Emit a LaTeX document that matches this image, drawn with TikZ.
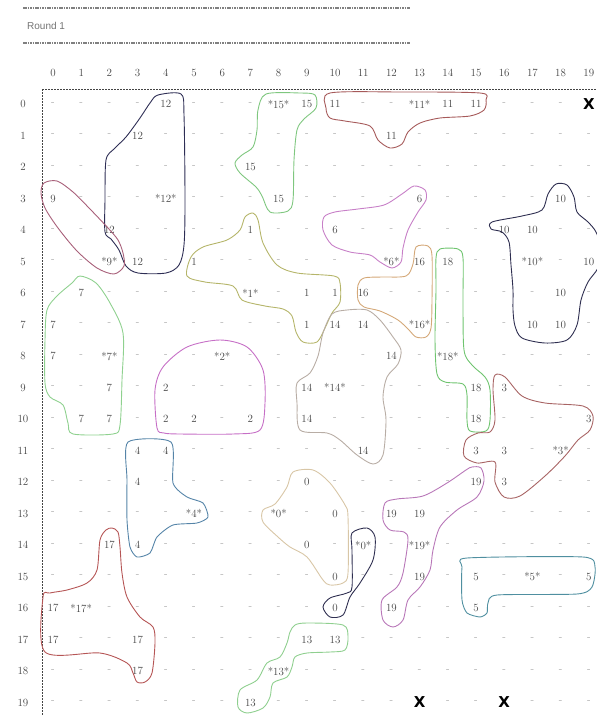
\documentclass[tikz,border=0pt]{standalone}
\usepackage{fontspec}
\newfontfamily\headfont{Liberation Sans}
\newfontfamily\crossfont{DejaVu Sans}
\usetikzlibrary{positioning}

\definecolor{ink}{HTML}{444444}
\definecolor{c0a}{HTML}{D8C6A6}
\definecolor{c0b}{HTML}{2E2E50}
\definecolor{c1}{HTML}{B5B56A}
\definecolor{c2}{HTML}{C66FC6}
\definecolor{c3}{HTML}{A86464}
\definecolor{c4}{HTML}{5584A8}
\definecolor{c5}{HTML}{4F8FA0}
\definecolor{c6}{HTML}{C77FC7}
\definecolor{c7}{HTML}{8FD18F}
\definecolor{c9}{HTML}{A8607A}
\definecolor{c10}{HTML}{2E2E50}
\definecolor{c11}{HTML}{A65A5A}
\definecolor{c12}{HTML}{2E2E55}
\definecolor{c13}{HTML}{8FCF8F}
\definecolor{c14}{HTML}{B8ADA5}
\definecolor{c15}{HTML}{7FC77F}
\definecolor{c16}{HTML}{D4A878}
\definecolor{c17}{HTML}{B55555}
\definecolor{c18}{HTML}{6FC46F}
\definecolor{c19}{HTML}{B877B8}

\tikzset{
  cell/.style={inner sep=0.6pt, font=\fontsize{11}{11}\selectfont, text=ink},
  num/.style={cell},
  dashmark/.style={cell, text=gray!75},
  xcell/.style={inner sep=0.6pt, font=\crossfont\bfseries\fontsize{15}{15}\selectfont},
  titletext/.style={inner sep=0pt, font=\headfont\fontsize{10}{10}\selectfont, text=gray!90!black},
  rule/.style={gray, line width=1.3pt, dash pattern=on 1.6pt off 0.8pt},
  axis/.style={ink, line width=0.8pt, dash pattern=on 2pt off 1pt},
  region/.style={line width=0.9pt, line join=round},
}

\begin{document}
\begin{tikzpicture}[x=1pt, y=-1pt]
\useasboundingbox (0,0) rectangle (597,715);

% title block
\node[titletext, anchor=west] (title) at (27,26) {Round 1};
\coordinate (ruleA1) at (23,8);
\coordinate (ruleA2) at (410,8);
\coordinate (ruleB1) at (23,43);
\coordinate (ruleB2) at (410,43);
\draw[rule] (ruleA1) -- (ruleA2);
\draw[rule] (ruleB1) -- (ruleB2);

% axes
\coordinate (top) at (42,89);
\coordinate (right) at (597,89);
\coordinate (bottom) at (42,715);
\draw[axis] (top) -- (right);
\draw[axis] (top) -- (bottom);

% column and row numbers
\foreach \c in {0,...,19}
  \node[cell] (h\c) at ({53+28.2*\c},73) {\c};
\foreach \r in {0,...,19}
  \node[cell] (r\r) at (23,{104+31.5*\r}) {\r};

% numbered cells
\foreach \r/\c/\t in {0/4/12, 0/8/*15*, 0/9/15, 0/10/11, 0/13/*11*, 0/14/11, 0/15/11,
    1/3/12, 1/12/11, 2/7/15,
    3/0/9, 3/4/*12*, 3/8/15, 3/13/6, 3/18/10,
    4/2/12, 4/7/1, 4/10/6, 4/16/10, 4/17/10,
    5/2/*9*, 5/3/12, 5/5/1, 5/12/*6*, 5/13/16, 5/14/18, 5/17/*10*, 5/19/10,
    6/1/7, 6/7/*1*, 6/9/1, 6/10/1, 6/11/16, 6/18/10,
    7/0/7, 7/9/1, 7/10/14, 7/11/14, 7/13/*16*, 7/17/10, 7/18/10,
    8/0/7, 8/2/*7*, 8/6/*2*, 8/12/14, 8/14/*18*,
    9/2/7, 9/4/2, 9/9/14, 9/10/*14*, 9/15/18, 9/16/3,
    10/1/7, 10/2/7, 10/4/2, 10/5/2, 10/7/2, 10/9/14, 10/15/18, 10/19/3,
    11/3/4, 11/4/4, 11/11/14, 11/15/3, 11/16/3, 11/18/*3*,
    12/3/4, 12/9/0, 12/15/19, 12/16/3,
    13/5/*4*, 13/8/*0*, 13/10/0, 13/12/19, 13/13/19,
    14/2/17, 14/3/4, 14/9/0, 14/11/*0*, 14/13/*19*,
    15/10/0, 15/13/19, 15/15/5, 15/17/*5*, 15/19/5,
    16/0/17, 16/1/*17*, 16/10/0, 16/12/19, 16/15/5,
    17/0/17, 17/3/17, 17/9/13, 17/10/13,
    18/3/17, 18/8/*13*, 19/7/13}
  {\node[num] (n\r-\c) at ({53+28.2*\c},{104+31.5*\r}) {\t};
   \expandafter\gdef\csname used\r-\c\endcsname{}}

% blocked cells
\foreach \r/\c in {0/19, 19/13, 19/16}
  {\node[xcell] (x\r-\c) at ({53+28.2*\c},{104+31.5*\r}) {X};
   \expandafter\gdef\csname used\r-\c\endcsname{}}

% empty cells
\foreach \r in {0,...,19}
  \foreach \c in {0,...,19}
    {\ifcsname used\r-\c\endcsname\else
       \node[dashmark] (d\r-\c) at ({53+28.2*\c},{104+31.5*\r}) {-};
     \fi}

% groups
\draw[region, c12] plot[smooth cycle, tension=0.5] coordinates {(158,95) (181,94) (184,115) (185,200) (184,245) (179,265) (166,273) (138,273) (126,266) (119,250) (111,239) (105,232) (105,200) (106,160) (114,149) (126,137) (140,118) (150,103)};
\draw[region, c9] plot[smooth cycle, tension=0.5] coordinates {(44,183) (57,181) (73,192) (90,209) (108,228) (118,240) (123,253) (124,266) (114,274) (97,268) (77,251) (58,228) (45,208) (41,193)};
\draw[region, c15] plot[smooth cycle, tension=0.5] coordinates {(266,94) (300,93) (315,95) (316,108) (304,119) (297,130) (294,160) (293,200) (288,211) (270,212) (262,196) (256,187) (240,173) (235,163) (242,155) (253,147) (257,130) (258,110)};
\draw[region, c11] plot[smooth cycle, tension=0.5] coordinates {(330,93) (400,92) (480,93) (486,100) (484,110) (470,116) (440,118) (420,123) (408,132) (402,144) (390,148) (378,140) (370,126) (345,121) (330,118) (326,108)};
\draw[region, c6] plot[smooth cycle, tension=0.5] coordinates {(414,186) (425,190) (426,200) (418,212) (408,230) (403,248) (401,262) (392,268) (380,262) (370,255) (350,252) (332,245) (323,230) (324,217) (335,212) (358,209) (384,205) (402,194)};
\draw[region, c10] plot[smooth cycle, tension=0.5] coordinates {(492,222) (522,216) (542,210) (548,194) (556,184) (567,185) (574,197) (577,212) (588,222) (596,232) (602,250) (598,268) (588,282) (581,300) (577,325) (567,340) (545,343) (522,338) (515,326) (513,310) (513,290) (511,265) (509,242) (502,232) (491,229)};
\draw[region, c16] plot[smooth cycle, tension=0.5] coordinates {(416,247) (428,246) (432,256) (432,300) (431,328) (426,337) (416,337) (409,330) (398,320) (380,311) (364,307) (358,300) (358,285) (364,278) (382,277) (406,276) (413,264)};
\draw[region, c18] plot[smooth cycle, tension=0.5] coordinates {(440,249) (458,249) (463,258) (463,300) (464,350) (472,365) (485,377) (490,390) (490,420) (486,431) (470,431) (467,420) (467,395) (463,384) (445,382) (437,374) (435,340) (436,290) (436,258)};
\draw[region, c1] plot[smooth cycle, tension=0.5] coordinates {(187,276) (191,257) (203,247) (227,240) (240,230) (245,217) (253,213) (258,220) (263,243) (277,265) (297,273) (334,276) (340,283) (340,302) (332,313) (325,328) (317,342) (303,342) (296,332) (292,316) (283,309) (265,306) (242,300) (233,286) (205,282)};
\draw[region, c7] plot[smooth cycle, tension=0.5] coordinates {(80,276) (96,283) (110,303) (123,333) (122,380) (120,425) (113,434) (73,434) (68,423) (63,405) (50,397) (45,383) (45,340) (47,310) (57,296) (72,283)};
\draw[region, c2] plot[smooth cycle, tension=0.5] coordinates {(157,428) (155,390) (163,367) (187,347) (220,340) (247,347) (263,370) (265,403) (260,430) (233,434) (180,434) (164,433)};
\draw[region, c4] plot[smooth cycle, tension=0.4] coordinates {(128,442) (171,442) (173,483) (187,497) (203,503) (208,517) (197,523) (173,525) (157,537) (150,553) (137,557) (130,547) (127,520) (127,480)};
\draw[region, c14] plot[smooth cycle, tension=0.5] coordinates {(332,314) (347,310) (367,310) (380,320) (393,337) (401,350) (398,364) (387,377) (383,397) (386,420) (383,455) (373,464) (357,455) (340,440) (327,433) (300,430) (297,403) (297,383) (310,373) (318,356) (323,333)};
\draw[region, c3] plot[smooth cycle, tension=0.5] coordinates {(495,375) (505,377) (522,396) (545,403) (583,406) (593,416) (590,430) (578,440) (565,456) (545,476) (520,496) (504,497) (495,482) (495,462) (477,463) (464,456) (466,440) (478,433) (490,432) (495,420) (493,390)};
\draw[region, c19] plot[smooth cycle, tension=0.5] coordinates {(472,467) (481,468) (484,481) (477,497) (457,510) (440,527) (433,550) (430,570) (420,587) (408,600) (403,620) (393,627) (383,620) (382,600) (397,587) (403,573) (408,540) (404,532) (390,530) (383,520) (385,503) (397,499) (423,496) (447,483) (466,470)};
\draw[region, c0a] plot[smooth cycle, tension=0.5] coordinates {(293,472) (313,470) (330,483) (345,505) (348,517) (348,573) (343,583) (330,585) (323,580) (307,557) (290,547) (278,537) (263,522) (263,510) (275,504) (287,487)};
\draw[region, c0b] plot[smooth cycle, tension=0.5] coordinates {(352,533) (367,528) (375,537) (373,560) (360,583) (350,597) (343,615) (330,617) (323,607) (330,598) (347,593) (352,587) (352,550)};
\draw[region, c5] plot[smooth cycle, tension=0.4] coordinates {(467,558) (583,557) (595,567) (592,587) (577,594) (497,595) (488,603) (487,613) (480,617) (467,613) (462,600) (462,567)};
\draw[region, c17] plot[smooth cycle, tension=0.5] coordinates {(112,528) (118,532) (120,547) (122,573) (127,597) (140,617) (153,627) (155,643) (152,673) (145,682) (137,682) (133,673) (127,663) (100,653) (45,652) (43,597) (50,593) (67,590) (87,583) (97,570) (100,540) (106,530)};
\draw[region, c13] plot[smooth cycle, tension=0.5] coordinates {(295,625) (307,623) (343,625) (348,637) (345,650) (330,652) (307,653) (295,657) (292,667) (287,677) (273,683) (270,697) (263,708) (247,713) (238,707) (240,690) (257,680) (267,663) (280,657) (287,643) (290,632)};
\end{tikzpicture}
\end{document}
